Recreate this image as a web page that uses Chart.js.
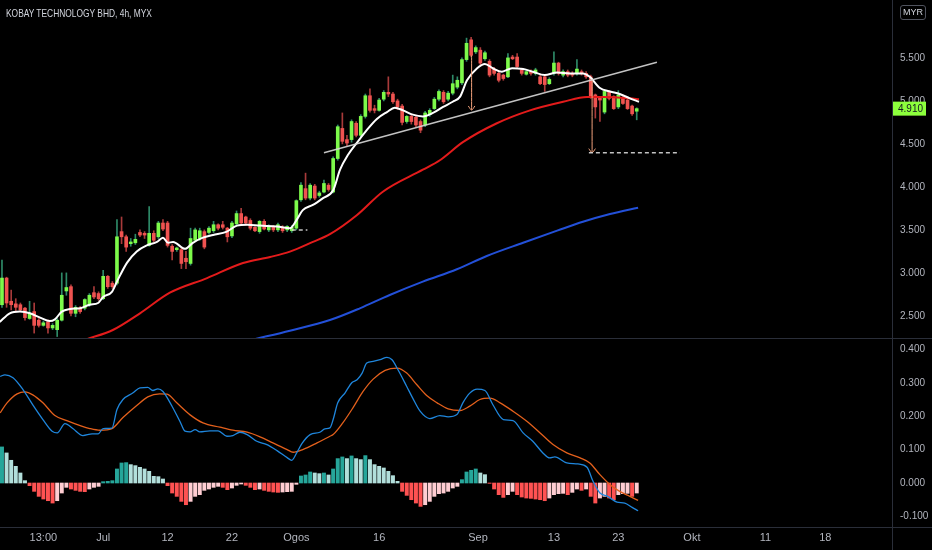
<!DOCTYPE html>
<html>
<head>
<meta charset="utf-8">
<title>KOBAY TECHNOLOGY BHD, 4h, MYX</title>
<script src="https://cdn.jsdelivr.net/npm/chart.js@4.4.1/dist/chart.umd.min.js"></script>
<style>
  html, body { margin: 0; padding: 0; background: #000; }
  #wrap { position: relative; width: 932px; height: 550px; overflow: hidden; background: #000; }
  #priceBox { position: absolute; left: 0; top: 0; width: 932px; height: 338px; }
  #macdBox { position: absolute; left: 0; top: 339px; width: 932px; height: 211px; }
  .hline { position: absolute; left: 0; width: 932px; height: 1px; background: #2a2e39; }
  .vline { position: absolute; left: 892px; top: 0; width: 1px; height: 550px; background: #2a2e39; }
  #title { position: absolute; left: 6px; top: 7px; font: 10.5px "Liberation Sans", Arial, sans-serif;
           color: #d1d4dc; transform: scaleX(0.8); transform-origin: 0 0; white-space: nowrap; }
  #unit { position: absolute; left: 900px; top: 5px; width: 24px; height: 13px; border: 1px solid #50535e; border-radius: 3px;
          font: 9px "Liberation Sans", Arial, sans-serif; color: #d1d4dc; text-align: center; line-height: 13px; }
</style>
</head>
<body>
<div id="wrap">
  <div id="priceBox"><canvas id="price"></canvas></div>
  <div id="macdBox"><canvas id="macd"></canvas></div>
  <div class="hline" style="top:338px"></div>
  <div class="hline" style="top:527px"></div>
  <div class="vline"></div>
  <div id="title">KOBAY TECHNOLOGY BHD, 4h, MYX</div>
  <div id="unit">MYR</div>
</div>
<script>
// 4h candles, oldest first (bar index 0..138)
const opens = [
  2.63,2.94,2.67,2.64,2.63,2.59,2.47,2.55,2.45,2.39,
  2.43,2.36,2.34,2.45,2.79,2.84,2.53,2.59,2.59,2.63,
  2.77,2.76,2.70,2.96,2.88,2.88,3.48,3.42,3.34,3.35,
  3.47,3.46,3.32,3.46,3.42,3.58,3.58,3.31,3.27,3.27,
  3.17,3.11,3.38,3.40,3.48,3.47,3.49,3.56,3.56,3.52,
  3.43,3.57,3.69,3.65,3.61,3.53,3.48,3.60,3.50,3.53,
  3.50,3.53,3.50,3.49,3.52,3.85,3.98,3.87,4.01,3.90,
  3.94,4.02,3.94,4.33,4.68,4.55,4.55,4.74,4.60,4.82,
  5.06,4.91,4.89,5.02,5.10,5.08,5.00,4.94,4.76,4.82,
  4.81,4.76,4.72,4.84,4.91,5.02,5.10,5.02,5.09,5.16,
  5.21,5.48,5.71,5.57,5.59,5.49,5.46,5.37,5.32,5.30,
  5.28,5.51,5.51,5.36,5.31,5.34,5.32,5.28,5.28,5.20,
  5.32,5.44,5.30,5.34,5.32,5.32,5.34,5.32,5.28,5.07,
  5.03,4.87,5.11,5.05,4.93,5.03,5.01,4.94,4.88
];
const highs = [
  3.15,2.95,2.80,2.70,2.65,2.60,2.67,2.65,2.47,2.44,
  2.45,2.41,2.47,3.00,3.00,2.86,2.62,2.61,2.70,2.76,
  2.84,2.78,3.03,2.97,2.90,3.62,3.65,3.44,3.40,3.45,
  3.50,3.48,3.77,3.49,3.60,3.62,3.60,3.33,3.30,3.29,
  3.25,3.52,3.52,3.52,3.50,3.54,3.60,3.57,3.60,3.53,
  3.60,3.72,3.75,3.66,3.63,3.54,3.61,3.62,3.56,3.55,
  3.58,3.55,3.55,3.55,3.85,4.05,4.16,4.04,4.03,3.95,
  4.08,4.04,4.35,4.72,4.86,4.60,4.78,4.76,4.84,5.08,
  5.14,4.95,5.03,5.12,5.28,5.10,5.02,4.96,4.83,4.84,
  4.83,4.78,4.88,4.91,5.04,5.13,5.12,5.11,5.30,5.28,
  5.50,5.73,5.74,5.64,5.62,5.58,5.48,5.39,5.34,5.31,
  5.55,5.53,5.55,5.38,5.36,5.36,5.38,5.30,5.30,5.27,
  5.57,5.45,5.36,5.36,5.34,5.48,5.36,5.34,5.30,5.08,
  5.05,5.12,5.12,5.06,5.12,5.05,5.02,4.95,4.92
];
const lows = [
  2.60,2.60,2.57,2.55,2.55,2.45,2.46,2.30,2.37,2.38,
  2.30,2.34,2.26,2.44,2.74,2.50,2.49,2.53,2.57,2.61,
  2.70,2.68,2.69,2.82,2.82,2.86,3.34,3.25,3.31,3.33,
  3.42,3.40,3.31,3.36,3.40,3.49,3.30,3.15,3.25,3.05,
  3.05,3.09,3.37,3.38,3.28,3.45,3.47,3.50,3.51,3.36,
  3.41,3.55,3.56,3.56,3.50,3.48,3.46,3.50,3.48,3.48,
  3.48,3.47,3.48,3.47,3.50,3.83,3.85,3.85,3.85,3.88,
  3.93,3.95,3.93,4.31,4.50,4.48,4.52,4.58,4.58,4.80,
  4.87,4.86,4.88,5.00,5.05,4.97,4.90,4.72,4.74,4.73,
  4.70,4.63,4.70,4.82,4.90,5.00,4.97,5.00,5.07,5.14,
  5.19,5.46,5.51,5.55,5.42,5.47,5.28,5.30,5.22,5.24,
  5.27,5.48,5.38,5.30,5.30,5.30,5.30,5.19,5.11,5.19,
  5.30,5.30,5.28,5.28,5.28,5.30,5.30,5.26,5.03,4.80,
  4.76,4.85,5.01,4.90,4.91,4.96,4.90,4.83,4.78
];
const closes = [
  2.94,2.65,2.63,2.60,2.57,2.48,2.53,2.39,2.39,2.42,
  2.36,2.39,2.45,2.74,2.83,2.53,2.60,2.55,2.69,2.74,
  2.72,2.70,2.96,2.84,2.84,3.42,3.42,3.30,3.36,3.39,
  3.44,3.44,3.46,3.38,3.58,3.51,3.32,3.25,3.29,3.11,
  3.13,3.40,3.50,3.49,3.30,3.52,3.56,3.52,3.53,3.42,
  3.58,3.69,3.58,3.58,3.52,3.49,3.60,3.51,3.54,3.50,
  3.56,3.49,3.54,3.53,3.84,4.02,3.87,4.02,3.87,3.93,
  4.04,3.97,4.33,4.70,4.53,4.51,4.76,4.60,4.82,5.06,
  4.89,4.89,5.01,5.10,5.08,4.99,4.93,4.75,4.82,4.76,
  4.72,4.66,4.86,4.89,5.02,5.11,4.99,5.09,5.20,5.24,
  5.48,5.67,5.53,5.62,5.44,5.56,5.30,5.32,5.24,5.26,
  5.50,5.49,5.40,5.32,5.34,5.32,5.36,5.20,5.19,5.25,
  5.44,5.32,5.34,5.30,5.30,5.37,5.32,5.28,5.05,4.93,
  5.01,5.11,5.03,4.91,5.07,4.97,4.91,4.85,4.91
];

// moving averages (bar index, price)
const fastMaX = [-0.5,1.7,3.9,6.1,8.3,10.4,11.5,13,14.8,17,19.1,20.9,22,23.9,25,27.2,29.3,31.5,33.7,35,36.1,37.2,39.8,41.5,43.7,45.9,48.9,51.1,53.3,56.1,59.8,62.6,64.1,65.4,67.6,69.8,72,73.5,75.2,77.4,79.3,81.5,83.7,85.4,87.2,89.3,91.5,93.7,95.9,98,99.6,101.1,103.3,105,106.7,108.7,110.9,113.3,115.4,118,120.7,123.5,126.3,127.8,130,132.2,134.3,136.5,138.5];
const fastMaY = [2.43,2.53,2.55,2.53,2.48,2.44,2.46,2.55,2.58,2.59,2.63,2.65,2.72,2.78,2.90,3.12,3.25,3.32,3.36,3.41,3.35,3.36,3.28,3.35,3.41,3.44,3.48,3.55,3.56,3.55,3.54,3.52,3.62,3.73,3.79,3.87,3.96,4.20,4.37,4.53,4.66,4.79,4.87,4.92,4.89,4.84,4.82,4.86,4.93,4.99,5.05,5.24,5.38,5.43,5.38,5.34,5.38,5.37,5.34,5.30,5.33,5.32,5.32,5.28,5.15,5.11,5.08,5.03,4.99];
const midMaX = [18.5,24.1,30,36.5,44.6,52.4,58.3,62.6,67.6,71.3,77.2,82.8,91.5,95.2,100.2,107.6,114.8,122,127.2,130.7,136.5,138.5];
const midMaY = [2.23,2.336,2.53,2.77,2.94,3.115,3.185,3.247,3.36,3.45,3.673,3.944,4.20,4.31,4.52,4.74,4.89,4.99,5.045,5.045,5.03,5.02];
const slowMaX = [55,62.6,71.3,77.8,84.3,91.5,98.9,105.4,113.3,120.7,126.3,132.2,138.3];
const slowMaY = [2.23,2.328,2.452,2.588,2.743,2.898,3.042,3.197,3.351,3.491,3.595,3.685,3.758];

// drawings on the price pane
const trendLine = [{ x: 70, y: 4.398 }, { x: 142.4, y: 5.449 }];
const baseLevel = [{ x: 63, y: 3.499 }, { x: 66.4, y: 3.499 }];
const targetLevel = [{ x: 127.6, y: 4.398 }, { x: 147.4, y: 4.398 }];
const drops = [{ at: 102.1, from: 5.53, to: 4.894 }, { at: 128.3, from: 5.243, to: 4.398 }];

// MACD pane
const macdHist = [
  0.108,0.09,0.068,0.05,0.03,0.007,-0.008,-0.025,-0.04,-0.048,
  -0.053,-0.06,-0.053,-0.03,-0.013,-0.018,-0.022,-0.025,-0.026,-0.018,
  -0.013,-0.01,0.004,0.005,0.007,0.042,0.06,0.061,0.055,0.052,
  0.047,0.042,0.035,0.02,0.019,0.012,-0.008,-0.03,-0.04,-0.055,
  -0.065,-0.055,-0.04,-0.035,-0.022,-0.018,-0.013,-0.01,-0.013,-0.02,
  -0.015,-0.007,-0.003,-0.007,-0.013,-0.02,-0.018,-0.022,-0.025,-0.027,
  -0.028,-0.027,-0.026,-0.025,-0.004,0.021,0.024,0.033,0.03,0.028,
  0.03,0.024,0.042,0.073,0.078,0.073,0.081,0.073,0.07,0.082,
  0.07,0.055,0.05,0.045,0.035,0.022,0.005,-0.025,-0.037,-0.05,
  -0.06,-0.07,-0.065,-0.055,-0.04,-0.032,-0.03,-0.025,-0.015,-0.01,
  0.01,0.033,0.038,0.042,0.03,0.025,-0.001,-0.018,-0.035,-0.043,
  -0.035,-0.025,-0.035,-0.042,-0.045,-0.046,-0.048,-0.05,-0.053,-0.045,
  -0.035,-0.032,-0.031,-0.035,-0.028,-0.018,-0.022,-0.018,-0.04,-0.06,
  -0.045,-0.04,-0.045,-0.05,-0.035,-0.032,-0.031,-0.04,-0.03
];
const macdX = [-0.4,0.65,2.4,4.6,6.7,8.9,10.9,12,13.7,15.4,17.6,19.6,20.9,22,23.9,25,26.3,28.5,30,31.7,32.8,33.9,35,37,38.7,39.8,40.9,42,43,45.2,47,48.9,50.2,51.7,53.3,55.4,57.6,59.8,62,63,64.1,65.2,67,69.1,70.2,71.3,72,73,74.6,76.1,77.2,78.3,79.3,80.7,82.2,83.7,84.8,86.1,88,89.3,90.9,93,95.2,97,98.9,100.2,101.7,103.3,105,106.7,109,111.1,113.3,115.4,117.6,119.1,120.2,122.8,125.2,127.2,128.5,130,131.7,133.7,135.4,137,138.3];
const macdY = [0.319,0.324,0.315,0.279,0.234,0.19,0.155,0.15,0.178,0.163,0.142,0.147,0.147,0.163,0.164,0.22,0.25,0.27,0.285,0.286,0.277,0.282,0.274,0.229,0.184,0.155,0.153,0.16,0.153,0.156,0.156,0.14,0.142,0.152,0.145,0.125,0.115,0.097,0.076,0.068,0.091,0.118,0.145,0.152,0.162,0.165,0.19,0.24,0.27,0.301,0.309,0.329,0.359,0.364,0.369,0.376,0.369,0.339,0.289,0.254,0.215,0.193,0.202,0.198,0.205,0.24,0.269,0.281,0.277,0.235,0.19,0.187,0.15,0.125,0.09,0.075,0.078,0.06,0.057,0.047,0.005,-0.03,-0.04,-0.057,-0.06,-0.073,-0.083];
const signalX = [-0.4,1.1,3.3,5,6.7,8.9,11.5,14.1,17,19.1,21.3,23.9,26.3,29.3,31.7,34.3,35.9,38,40.9,43.7,47.4,50.2,53.3,56.1,58.9,62,63.3,65.4,68.5,71.3,72,74.1,76.3,78.5,80.7,83.3,85.9,88,90.2,92.4,94.6,97,99.6,101.7,103.9,106.1,108.3,111.1,114.1,117,119.8,122.8,125.7,127.8,130,132.2,134.3,136.5,138.3];
const signalY = [0.21,0.24,0.267,0.273,0.264,0.24,0.202,0.187,0.172,0.163,0.158,0.163,0.196,0.232,0.258,0.267,0.266,0.24,0.204,0.18,0.167,0.158,0.152,0.138,0.12,0.1,0.092,0.1,0.12,0.14,0.145,0.18,0.225,0.274,0.311,0.337,0.344,0.329,0.294,0.261,0.24,0.222,0.217,0.23,0.25,0.254,0.24,0.215,0.185,0.15,0.115,0.09,0.075,0.06,0.025,-0.005,-0.025,-0.04,-0.052];

// time axis
const timeTicks = [9, 22, 36, 50, 64, 82, 103.5, 120, 134, 150, 166, 179];
const timeLabels = ['13:00', 'Jul', '12', '22', 'Ogos', '16', 'Sep', '13', '23', 'Okt', '11', '18'];
const priceTicks = [2.5, 3, 3.5, 4, 4.5, 5, 5.5];
const macdTicks = [-0.1, 0, 0.1, 0.2, 0.3, 0.4];

const X_MIN = -0.43, X_MAX = 193.5;
const AXIS_W = 40;
const AXIS_FONT = { family: '"Liberation Sans", Arial, sans-serif', size: 10 };
const AXIS_COLOR = '#b2b5be';
const NO_GRID = { display: false, drawTicks: false };

const pts = (xs, ys) => xs.map((x, i) => ({ x: x, y: ys[i] }));
const up = closes.map((c, i) => c >= opens[i]);

const bodies = opens.map((o, i) => ({ x: i, y: [o, closes[i]] }));
const wicks = lows.map((l, i) => ({ x: i, y: [l, highs[i]] }));

function lineSet(data, color, width, order, extra) {
  return Object.assign({
    type: 'line', data: data, borderColor: color, borderWidth: width,
    pointRadius: 0, fill: false, order: order, cubicInterpolationMode: 'monotone'
  }, extra || {});
}

const ARROW_DX = 0.72, ARROW_DY = 0.047;
const arrowSets = [];
drops.forEach(d => {
  arrowSets.push(lineSet([{ x: d.at, y: d.from }, { x: d.at, y: d.to }], '#f2a27c', 1, 0));
  arrowSets.push(lineSet([{ x: d.at - ARROW_DX, y: d.to + ARROW_DY }, { x: d.at, y: d.to }, { x: d.at + ARROW_DX, y: d.to + ARROW_DY }], '#f2a27c', 1, 0));
});

const lastPriceLabel = {
  id: 'lastPriceLabel',
  afterDraw(chart) {
    const last = closes[closes.length - 1];
    const y = chart.scales.y.getPixelForValue(last);
    const left = chart.chartArea.right + 1;
    const ctx = chart.ctx;
    ctx.save();
    ctx.fillStyle = '#8cff3c';
    ctx.fillRect(left, y - 7, 33, 14);
    ctx.fillStyle = '#131722';
    ctx.font = '10px "Liberation Sans", Arial, sans-serif';
    ctx.textBaseline = 'middle';
    ctx.fillText(last.toFixed(3), left + 5, y + 0.5);
    ctx.restore();
  }
};

function yAxis(min, max, ticks) {
  return {
    position: 'right', min: min, max: max,
    grid: NO_GRID, border: { display: false },
    afterBuildTicks: s => { s.ticks = ticks.map(v => ({ value: v })); },
    afterFit: s => { s.width = AXIS_W; s.paddingTop = 0; s.paddingBottom = 0; },
    ticks: { color: AXIS_COLOR, font: AXIS_FONT, padding: 8, callback: v => v.toFixed(3) }
  };
}

const common = {
  animation: false, responsive: true, maintainAspectRatio: false, events: [],
  layout: { padding: 0 },
  plugins: { legend: { display: false }, tooltip: { enabled: false } }
};

new Chart(document.getElementById('price'), {
  type: 'bar',
  data: {
    datasets: [
      lineSet(pts(fastMaX, fastMaY), '#ffffff', 2, 1),
      lineSet(pts(midMaX, midMaY), '#e31b1b', 2, 2),
      lineSet(pts(slowMaX, slowMaY), '#2350d8', 2, 3),
      lineSet(trendLine, 'rgba(215,215,215,0.9)', 1.5, 0),
      lineSet(baseLevel, 'rgba(215,215,215,0.9)', 1.5, 0, { borderDash: [4, 3] }),
      lineSet(targetLevel, 'rgba(215,215,215,0.9)', 1.5, 0, { borderDash: [4, 3] }),
      ...arrowSets,
      {
        type: 'bar', data: bodies, grouped: false, barThickness: 3, order: 5,
        backgroundColor: up.map(u => u ? '#7dfa4a' : '#ef5350'), borderWidth: 0
      },
      {
        type: 'bar', data: wicks, grouped: false, barThickness: 1, order: 6,
        backgroundColor: up.map(u => u ? '#2e8a68' : '#a83a3a'), borderWidth: 0
      }
    ]
  },
  options: Object.assign({}, common, {
    scales: {
      x: { type: 'linear', display: false, offset: false, grid: { offset: false }, min: X_MIN, max: X_MAX },
      y: yAxis(2.243, 6.1733, priceTicks)
    }
  }),
  plugins: [lastPriceLabel]
});

const histColors = macdHist.map((v, i) => {
  const rising = i === 0 || v >= macdHist[i - 1];
  if (v >= 0) return rising ? '#26a69a' : '#b2dfdb';
  return rising ? '#ffcdd2' : '#ff5252';
});

new Chart(document.getElementById('macd'), {
  type: 'bar',
  data: {
    datasets: [
      lineSet(pts(macdX, macdY), '#1f86dc', 1.3, 1),
      lineSet(pts(signalX, signalY), '#e3601c', 1.3, 2),
      {
        type: 'bar', data: macdHist.map((v, i) => ({ x: i, y: v })), grouped: false,
        barThickness: 3.3, order: 5, backgroundColor: histColors, borderWidth: 0
      }
    ]
  },
  options: Object.assign({}, common, {
    scales: {
      x: {
        type: 'linear', min: X_MIN, max: X_MAX, offset: false,
        grid: { display: false, drawTicks: false, offset: false }, border: { display: false },
        afterBuildTicks: s => { s.ticks = timeTicks.map(v => ({ value: v })); },
        afterFit: s => { s.height = 22; s.paddingLeft = 0; s.paddingRight = 0; },
        ticks: {
          color: AXIS_COLOR, font: { family: AXIS_FONT.family, size: 11 }, padding: 3,
          autoSkip: false, maxRotation: 0, callback: (v, i) => timeLabels[i]
        }
      },
      y: yAxis(-0.1347, 0.4311, macdTicks)
    }
  })
});
</script>
</body>
</html>
